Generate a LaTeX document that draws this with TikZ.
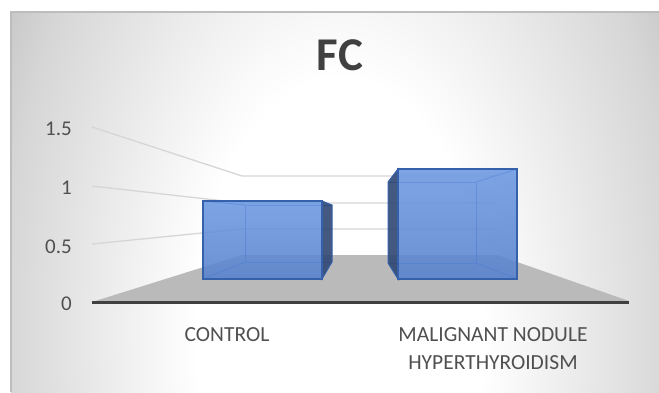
\documentclass[tikz,border=0pt]{standalone}
\usepackage{fontspec}
\setmainfont{Carlito}
\definecolor{bgA}{HTML}{EEEEEE}
\definecolor{bgB}{HTML}{D6D6D6}
\definecolor{bgC}{HTML}{C9C9C9}
\definecolor{bgD}{HTML}{C2C2C2}
\definecolor{framegray}{HTML}{BDBDBD}
\definecolor{gridgray}{HTML}{D6D6D6}
\definecolor{floorgray}{HTML}{BABABA}
\definecolor{axisgray}{HTML}{404040}
\definecolor{textgray}{HTML}{505050}
\definecolor{titlegray}{HTML}{404040}
\definecolor{barTop}{HTML}{6C98E1}
\definecolor{barBot}{HTML}{5782CE}
\definecolor{barEdge}{HTML}{3560AA}
\definecolor{barInner}{HTML}{4D78C4}
\definecolor{barDark}{HTML}{2F4774}
\pgfdeclareradialshading{bgshade}{\pgfpoint{0bp}{0bp}}{color(0bp)=(white); color(9bp)=(white); color(14bp)=(bgA); color(21bp)=(bgB); color(23.5bp)=(bgC); color(25bp)=(bgD); color(50bp)=(bgD)}
\tikzset{
  gridline/.style={draw=gridgray, line width=1.3pt},
  axislabel/.style={anchor=east, inner sep=0pt, text=textgray, font=\fontsize{21}{24}\selectfont},
  catlabel/.style={inner sep=0pt, text=textgray, align=center, font=\fontsize{21.5}{28}\selectfont},
  frontface/.style={top color=barTop, bottom color=barBot, fill opacity=0.88, draw=barEdge, draw opacity=1, line width=1.1pt},
  sideface/.style={fill=barDark, fill opacity=0.9, draw=barEdge, line width=1pt},
  inneredge/.style={draw=barInner, line width=1pt},
}
\begin{document}
\begin{tikzpicture}[x=1pt,y=-1pt]
\useasboundingbox (0,0) rectangle (659,392);
% background
\begin{scope}
  \clip (11,12) rectangle (659,392);
  \shade[shading=bgshade] (340,330) ellipse [x radius=400, y radius=700];
\end{scope}
\draw[framegray, line width=1.2pt] (11,392) -- (11,12) -- (659,12);
% floor
\fill[floorgray] (92,302) -- (242,255) -- (497,255) -- (629,301) -- cycle;
% gridlines
\coordinate (g15a) at (92,127); \coordinate (g15b) at (242,176); \coordinate (g15c) at (497,176);
\coordinate (g10a) at (92,186); \coordinate (g10b) at (242,203); \coordinate (g10c) at (497,203);
\coordinate (g05a) at (92,244); \coordinate (g05b) at (242,229); \coordinate (g05c) at (497,229);
\draw[gridline] (g15a) -- (g15b) -- (g15c);
\draw[gridline] (g10a) -- (g10b) -- (g10c);
\draw[gridline] (g05a) -- (g05b) -- (g05c);
% axis line
\coordinate (ax0) at (92,302.5); \coordinate (ax1) at (629,302.5);
\draw[axisgray, line width=3pt] (ax0) -- (ax1);
% axis labels
\node[axislabel] (l15) at (72,129) {1.5};
\node[axislabel] (l10) at (72,188) {1};
\node[axislabel] (l05) at (72,247) {0.5};
\node[axislabel] (l00) at (72,304) {0};
% control bar
\coordinate (cFTL) at (203,201); \coordinate (cFTR) at (322,201);
\coordinate (cFBL) at (203,279); \coordinate (cFBR) at (322,279);
\coordinate (cBTL) at (245,205); \coordinate (cBTR) at (332,205);
\coordinate (cBBL) at (245,262); \coordinate (cBBR) at (332,262);
\draw[inneredge] (cBTR) -- (cBTL) -- (cBBL) -- (cBBR);
\draw[inneredge] (cFTL) -- (cBTL);
\draw[inneredge] (cFBL) -- (cBBL);
\draw[sideface] (cFTR) -- (cBTR) -- (cBBR) -- (cFBR) -- cycle;
\draw[frontface] (cFTL) rectangle (cFBR);
% malignant bar
\coordinate (mFTL) at (398,169); \coordinate (mFTR) at (517,169);
\coordinate (mFBL) at (398,279); \coordinate (mFBR) at (517,279);
\coordinate (mBTL) at (388,182); \coordinate (mBTR) at (476,182);
\coordinate (mBBL) at (388,263); \coordinate (mBBR) at (476,263);
\draw[inneredge] (mBTL) -- (mBTR) -- (mBBR) -- (mBBL);
\draw[inneredge] (mFTR) -- (mBTR);
\draw[inneredge] (mFBR) -- (mBBR);
\draw[sideface] (mBTL) -- (mFTL) -- (mFBL) -- (mBBL) -- cycle;
\draw[frontface] (mFTL) rectangle (mFBR);
% title
\node[inner sep=0pt, text=titlegray, font=\bfseries\fontsize{47}{50}\selectfont] (title) at (340,55) {FC};
% category labels
\node[catlabel] (cat1) at (227,335) {CONTROL};
\node[catlabel] (cat2) at (493,349) {MALIGNANT NODULE\\HYPERTHYROIDISM};
\end{tikzpicture}
\end{document}
